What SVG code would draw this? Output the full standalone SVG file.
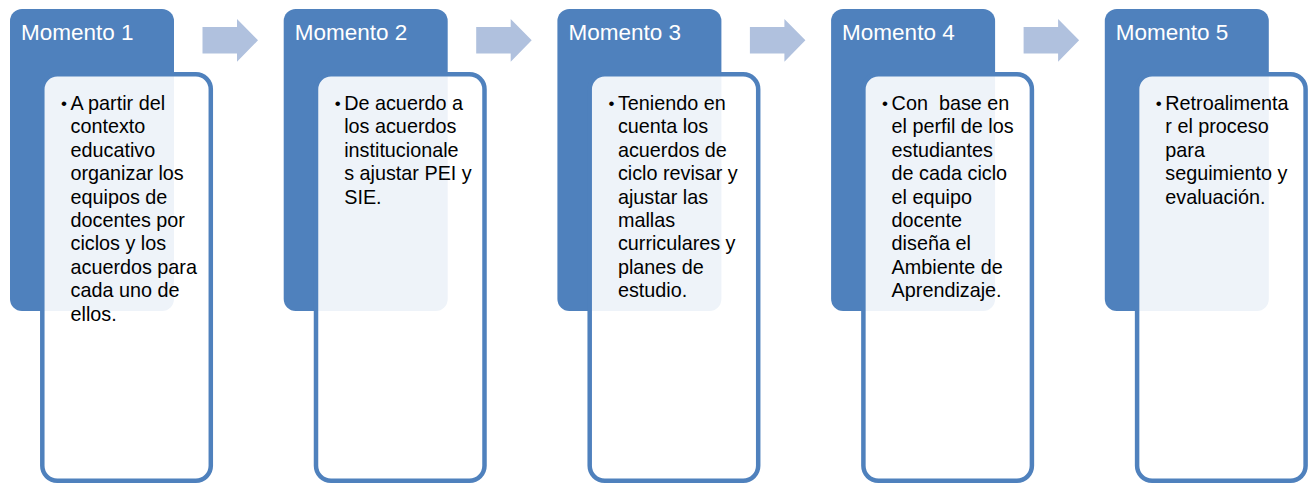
<svg xmlns="http://www.w3.org/2000/svg" width="1310" height="485" viewBox="0 0 1310 485">
<style>
.hdr{fill:#4f81bd}
.card{fill:#ffffff;fill-opacity:0.9;stroke:#4f81bd;stroke-width:4.5}
.ttl{font-family:"Liberation Sans",Arial,sans-serif;font-size:22.5px;fill:#ffffff}
.body{font-family:"Liberation Sans",Arial,sans-serif;font-size:19.8px;fill:#000000}
.bul{font-family:"Liberation Sans",Arial,sans-serif;font-size:17px;fill:#000000}
.arr{fill:#b0c1de}
</style>
<rect width="1310" height="485" fill="#ffffff"/>
<g id="connectors">
<polygon class="arr" points="202.5,27 237,27 237,19 258,40.3 237,61.7 237,53.5 202.5,53.5"/>
<polygon class="arr" points="476.2,27 510.7,27 510.7,19 531.7,40.3 510.7,61.7 510.7,53.5 476.2,53.5"/>
<polygon class="arr" points="749.9,27 784.4,27 784.4,19 805.4,40.3 784.4,61.7 784.4,53.5 749.9,53.5"/>
<polygon class="arr" points="1023.6,27 1058.1,27 1058.1,19 1079.1,40.3 1058.1,61.7 1058.1,53.5 1023.6,53.5"/>
</g>
<g id="node1" transform="translate(10,0)">
<rect class="hdr" x="0" y="9" width="164" height="302" rx="12"/>
<rect class="card" x="32.3" y="74.3" width="168.5" height="406.5" rx="15"/>
<text class="ttl" x="11" y="40">Momento 1</text>
<text class="bul" x="51" y="109">•</text>
<text class="body" x="60.5" y="110"><tspan x="60.5" y="110">A partir del</tspan><tspan x="60.5" dy="23.4">contexto</tspan><tspan x="60.5" dy="23.4">educativo</tspan><tspan x="60.5" dy="23.4">organizar los</tspan><tspan x="60.5" dy="23.4">equipos de</tspan><tspan x="60.5" dy="23.4">docentes por</tspan><tspan x="60.5" dy="23.4">ciclos y los</tspan><tspan x="60.5" dy="23.4">acuerdos para</tspan><tspan x="60.5" dy="23.4">cada uno de</tspan><tspan x="60.5" dy="23.4">ellos.</tspan></text>
</g>
<g id="node2" transform="translate(283.7,0)">
<rect class="hdr" x="0" y="9" width="164" height="302" rx="12"/>
<rect class="card" x="32.3" y="74.3" width="168.5" height="406.5" rx="15"/>
<text class="ttl" x="11" y="40">Momento 2</text>
<text class="bul" x="51" y="109">•</text>
<text class="body" x="60.5" y="110"><tspan x="60.5" y="110">De acuerdo a</tspan><tspan x="60.5" dy="23.4">los acuerdos</tspan><tspan x="60.5" dy="23.4">institucionale</tspan><tspan x="60.5" dy="23.4">s ajustar PEI y</tspan><tspan x="60.5" dy="23.4">SIE.</tspan></text>
</g>
<g id="node3" transform="translate(557.4,0)">
<rect class="hdr" x="0" y="9" width="164" height="302" rx="12"/>
<rect class="card" x="32.3" y="74.3" width="168.5" height="406.5" rx="15"/>
<text class="ttl" x="11" y="40">Momento 3</text>
<text class="bul" x="51" y="109">•</text>
<text class="body" x="60.5" y="110"><tspan x="60.5" y="110">Teniendo en</tspan><tspan x="60.5" dy="23.4">cuenta los</tspan><tspan x="60.5" dy="23.4">acuerdos de</tspan><tspan x="60.5" dy="23.4">ciclo revisar y</tspan><tspan x="60.5" dy="23.4">ajustar las</tspan><tspan x="60.5" dy="23.4">mallas</tspan><tspan x="60.5" dy="23.4">curriculares y</tspan><tspan x="60.5" dy="23.4">planes de</tspan><tspan x="60.5" dy="23.4">estudio.</tspan></text>
</g>
<g id="node4" transform="translate(831.1,0)">
<rect class="hdr" x="0" y="9" width="164" height="302" rx="12"/>
<rect class="card" x="32.3" y="74.3" width="168.5" height="406.5" rx="15"/>
<text class="ttl" x="11" y="40">Momento 4</text>
<text class="bul" x="51" y="109">•</text>
<text class="body" x="60.5" y="110"><tspan x="60.5" y="110">Con&#160; base en</tspan><tspan x="60.5" dy="23.4">el perfil de los</tspan><tspan x="60.5" dy="23.4">estudiantes</tspan><tspan x="60.5" dy="23.4">de cada ciclo</tspan><tspan x="60.5" dy="23.4">el equipo</tspan><tspan x="60.5" dy="23.4">docente</tspan><tspan x="60.5" dy="23.4">diseña el</tspan><tspan x="60.5" dy="23.4">Ambiente de</tspan><tspan x="60.5" dy="23.4">Aprendizaje.</tspan></text>
</g>
<g id="node5" transform="translate(1104.8,0)">
<rect class="hdr" x="0" y="9" width="164" height="302" rx="12"/>
<rect class="card" x="32.3" y="74.3" width="168.5" height="406.5" rx="15"/>
<text class="ttl" x="11" y="40">Momento 5</text>
<text class="bul" x="51" y="109">•</text>
<text class="body" x="60.5" y="110"><tspan x="60.5" y="110">Retroalimenta</tspan><tspan x="60.5" dy="23.4">r el proceso</tspan><tspan x="60.5" dy="23.4">para</tspan><tspan x="60.5" dy="23.4">seguimiento y</tspan><tspan x="60.5" dy="23.4">evaluación.</tspan></text>
</g>
</svg>
